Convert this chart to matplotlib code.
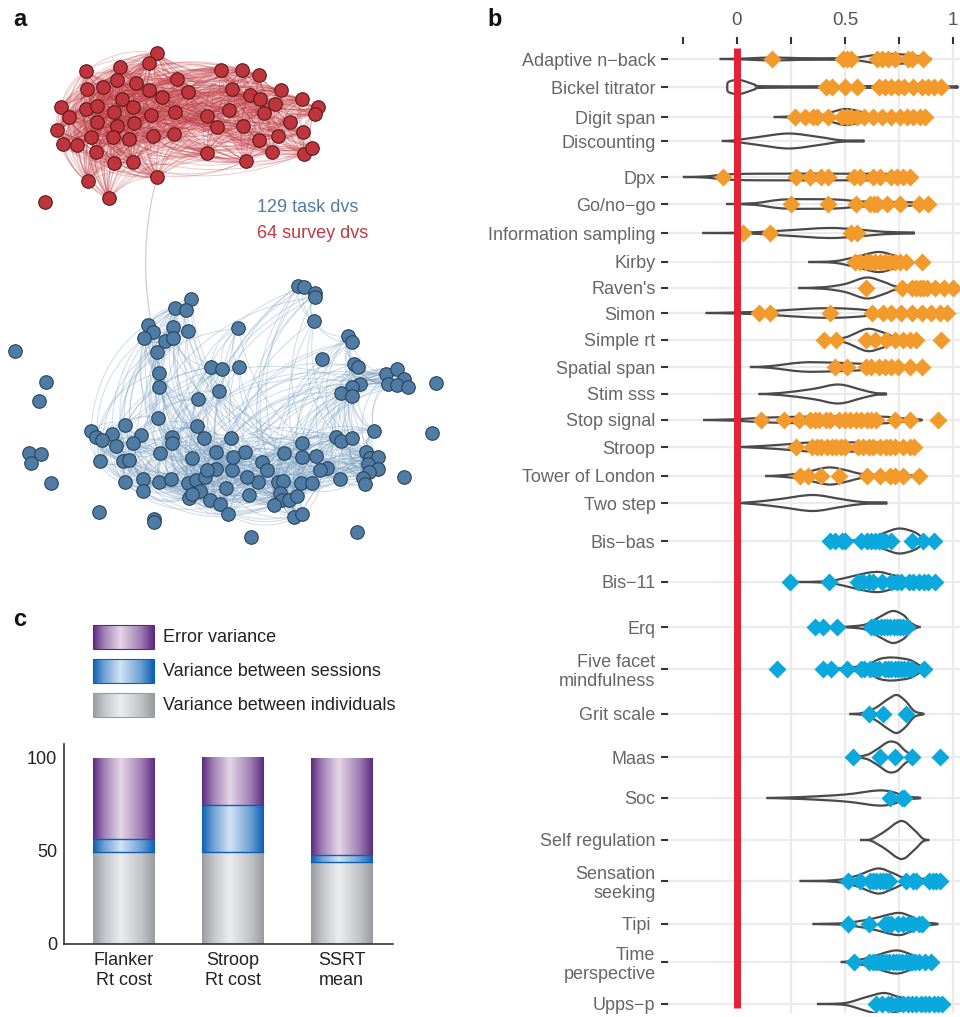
import numpy as np
import matplotlib
matplotlib.use('Agg')
import matplotlib.pyplot as plt
from matplotlib.path import Path
from matplotlib.patches import PathPatch, Rectangle
from matplotlib.collections import LineCollection
from matplotlib.colors import LinearSegmentedColormap, to_rgb

plt.rcParams['font.family'] = ['Liberation Sans', 'DejaVu Sans']

# ---------------- DATA ----------------
# Panel a: network layout (node positions in layout units)
survey_nodes = [(157,53),(149,63),(86,71),(120,67),(221,70),(242,70),(259,75),
    (117,80),(136,83),(177,79),(87,89),(103,87),(149,90),(188,92),(232,89),(281,90),
    (162,97),(122,99),(250,95),(260,99),(275,104),(302,99),(318,107),(315,114),
    (61,107),(86,109),(97,106),(133,107),(114,112),(151,115),(175,112),(207,116),(229,110),(264,113),
    (69,117),(97,122),(117,126),(134,123),(57,130),(217,127),(243,126),(290,122),
    (91,137),(113,137),(129,139),(153,136),(174,134),(278,136),(303,132),
    (63,144),(77,145),(96,152),(259,140),(207,153),(272,152),(304,154),(312,148),
    (114,163),(133,162),(246,161),(157,177),(88,181),(109,198)]
survey_isolated = [(45,202)]

task_nodes = [(298,286),(304,287),(315,293),(315,297),(191,299),(175,308),(186,310),(314,321),
    (148,325),(153,332),(144,338),(173,327),(188,331),(238,328),(165,341),(173,338),(348,336),
    (352,342),(157,352),(211,367),(222,369),(239,367),(354,364),(358,367),(386,374),(397,369),
    (404,379),(388,384),(397,385),(408,387),(159,373),(360,384),(352,387),(341,393),(352,396),
    (159,387),(219,391),(198,399),(158,418),(197,426),(125,425),(91,431),(96,437),(112,434),
    (102,440),(141,435),(133,443),(116,446),(172,437),(172,443),(204,438),(231,438),(374,431),
    (336,437),(341,441),(352,438),(302,443),(160,453),(216,452),(245,452),(284,453),(302,457),
    (316,456),(192,458),(262,462),(100,461),(123,461),(129,460),(216,469),(232,470),(327,468),
    (366,452),(370,458),(378,457),(368,464),(378,469),(369,472),(125,482),(143,479),(159,482),
    (171,479),(188,483),(196,480),(205,477),(258,482),(278,482),(283,481),(301,483),(312,483),
    (340,479),(363,478),(365,484),(143,491),(200,491),(226,488),(189,498),(192,494),(210,500),
    (249,495),(280,493),(282,500),(289,500),(297,496),(220,504),(274,505),(228,514),(294,517),
    (302,514),(207,470),(247,477),(267,470),(320,470),(233,457)]
task_isolated = [(15,351),(46,382),(39,401),(29,453),(41,454),(31,463),(51,483),(99,512),
    (154,519),(154,522),(251,537),(357,532),(436,383),(432,433),(404,477),(322,359)]
bridge_edge = [(157,177),(153,332)]

# Panel b: reliability distributions
row_labels = ['Adaptive n\u2212back','Bickel titrator','Digit span','Discounting','Dpx',
    'Go/no\u2212go','Information sampling','Kirby',"Raven's",'Simon','Simple rt','Spatial span',
    'Stim sss','Stop signal','Stroop','Tower of London','Two step','Bis\u2212bas','Bis\u221211',
    'Erq','Five facet\nmindfulness','Grit scale','Maas','Soc','Self regulation',
    'Sensation\nseeking','Tipi ','Time\nperspective','Upps\u2212p']
row_pos = [59,87,117,141,177,204,233,262,288,313,340,367,394,420,447,476,503,541,582,
    627,669,714,757,798,840,881,924,962,1004]
row_is_task = [True]*17 + [False]*12

row_points = [
    [0.16,0.49,0.51,0.53,0.65,0.67,0.70,0.73,0.79,0.81,0.86],
    [0.41,0.44,0.50,0.555,0.655,0.685,0.715,0.745,0.775,0.815,0.855,0.885,0.91,0.945],
    [0.27,0.315,0.35,0.37,0.42,0.485,0.51,0.53,0.555,0.59,0.63,0.67,0.715,0.755,0.785,0.815,0.845,0.87],
    [],
    [-0.065,0.275,0.34,0.39,0.42,0.54,0.57,0.63,0.66,0.715,0.74,0.77,0.80],
    [0.25,0.42,0.55,0.615,0.635,0.65,0.695,0.755,0.84,0.885],
    [0.03,0.155,0.53,0.555],
    [0.545,0.57,0.595,0.615,0.64,0.66,0.685,0.71,0.73,0.755,0.78,0.855],
    [0.595,0.765,0.81,0.83,0.845,0.86,0.88,0.915,0.96,1.0],
    [0.10,0.155,0.43,0.625,0.675,0.715,0.76,0.81,0.855,0.90,0.94,0.97],
    [0.405,0.46,0.595,0.64,0.69,0.73,0.77,0.80,0.83,0.945],
    [0.455,0.51,0.595,0.62,0.655,0.685,0.715,0.745,0.80,0.855],
    [],
    [0.11,0.22,0.285,0.34,0.36,0.38,0.41,0.43,0.47,0.50,0.525,0.55,0.575,0.60,0.62,0.645,0.73,0.80,0.93],
    [0.275,0.345,0.37,0.39,0.415,0.44,0.46,0.48,0.50,0.56,0.585,0.61,0.63,0.66,0.69,0.71,0.73,0.77,0.80,0.82],
    [0.29,0.33,0.39,0.47,0.60,0.66,0.71,0.73,0.77,0.84],
    [],
    [0.43,0.455,0.485,0.50,0.575,0.60,0.62,0.64,0.655,0.67,0.685,0.715,0.81,0.86,0.91],
    [0.245,0.425,0.56,0.585,0.61,0.63,0.67,0.715,0.74,0.76,0.795,0.815,0.84,0.865,0.885,0.915],
    [0.36,0.40,0.465,0.62,0.635,0.65,0.665,0.68,0.695,0.71,0.725,0.74,0.755,0.77,0.785],
    [0.185,0.40,0.435,0.51,0.575,0.59,0.615,0.64,0.655,0.685,0.70,0.715,0.73,0.745,0.76,0.775,0.79,0.81,0.865],
    [0.61,0.675,0.78],
    [0.535,0.66,0.73,0.81,0.94],
    [0.71,0.765,0.775],
    [],
    [0.515,0.57,0.615,0.63,0.645,0.66,0.675,0.69,0.705,0.78,0.815,0.83,0.89,0.905,0.92,0.94],
    [0.515,0.61,0.685,0.70,0.715,0.745,0.77,0.79,0.815,0.84,0.855],
    [0.54,0.61,0.63,0.645,0.66,0.675,0.69,0.705,0.72,0.735,0.75,0.765,0.78,0.795,0.81,0.825,0.84,0.87,0.90],
    [0.645,0.67,0.70,0.715,0.74,0.77,0.79,0.81,0.83,0.85,0.87,0.89,0.91,0.93,0.95],
]

# violin outlines: (value, half width) profile
row_violins = [
    [(-0.08,0),(0.05,0.6),(0.16,1.5),(0.3,0.8),(0.48,0.8),(0.55,1.2),(0.62,3.5),(0.7,5),(0.8,4),(0.87,1.5),(0.9,0)],
    [(-0.045,0),(-0.042,4.5),(-0.02,6.5),(0.01,7),(0.04,5.5),(0.08,2.5),(0.12,0.8),(0.4,0.7),(0.7,0.9),(1.0,0.6),(1.005,0)],
    [(0.17,0),(0.25,0.5),(0.38,1.5),(0.44,5),(0.5,8),(0.56,6),(0.62,2),(0.7,0.8),(0.86,0.6),(0.87,0)],
    [(-0.07,0),(-0.02,0.5),(0.1,4),(0.24,7.5),(0.38,4),(0.48,0.8),(0.58,0.5),(0.585,0)],
    [(-0.25,0),(-0.15,0.5),(-0.05,2.5),(0.1,3.3),(0.5,3.3),(0.72,3),(0.8,1.2),(0.81,0)],
    [(-0.05,0),(0.08,0.8),(0.22,4.5),(0.45,4.5),(0.58,2.5),(0.75,2),(0.88,1),(0.9,0)],
    [(-0.16,0),(0.05,0.5),(0.22,2.5),(0.42,5),(0.56,3.5),(0.68,1.2),(0.81,0.5),(0.815,0)],
    [(0.33,0),(0.45,0.8),(0.55,5),(0.65,10),(0.72,7),(0.77,2.5),(0.81,0)],
    [(0.284,0),(0.4,0.8),(0.5,4),(0.6,10.5),(0.68,6),(0.74,1.5),(0.85,1),(1.0,0.8),(1.01,0)],
    [(-0.145,0),(0.0,0.6),(0.15,1.8),(0.35,4.5),(0.5,4.5),(0.62,2.5),(0.7,1),(0.97,0.6),(0.98,0)],
    [(0.40,0),(0.5,2.5),(0.6,11),(0.67,8),(0.73,3),(0.8,1),(0.82,0)],
    [(0.06,0),(0.15,0.8),(0.3,4.5),(0.42,4.5),(0.55,3.5),(0.65,2.5),(0.75,1.5),(0.86,0.5),(0.865,0)],
    [(0.1,0),(0.2,1),(0.35,5),(0.47,9.5),(0.58,4),(0.64,1),(0.685,0.6),(0.69,0)],
    [(-0.157,0),(0.0,0.8),(0.15,2.5),(0.4,3.5),(0.65,3.5),(0.78,1.5),(0.85,0.5),(0.855,0)],
    [(0.0,0),(0.1,0.8),(0.25,3),(0.35,4.5),(0.6,4.5),(0.75,4),(0.81,1),(0.83,0)],
    [(0.13,0),(0.2,0.6),(0.3,3),(0.42,8.5),(0.5,6),(0.58,2),(0.7,1),(0.84,0.5),(0.845,0)],
    [(0.01,0),(0.1,1.5),(0.2,4),(0.35,8),(0.48,4),(0.58,1),(0.685,0.6),(0.69,0)],
    [(0.43,0),(0.55,0.8),(0.62,2.5),(0.68,8),(0.75,12.5),(0.82,9),(0.86,3),(0.88,0)],
    [(0.28,0),(0.42,0.8),(0.5,4),(0.6,9),(0.66,10),(0.72,7),(0.8,3),(0.9,1.5),(0.92,0)],
    [(0.47,0),(0.55,1),(0.6,3),(0.66,10),(0.72,16),(0.77,12),(0.8,5),(0.83,1),(0.85,0)],
    [(0.4,0),(0.5,1),(0.6,4),(0.66,10),(0.72,11.5),(0.8,9),(0.85,3),(0.88,0)],
    [(0.52,0),(0.58,1),(0.64,6),(0.7,15),(0.74,19),(0.78,13),(0.82,3),(0.86,0.5),(0.865,0)],
    [(0.53,0),(0.6,2),(0.65,8),(0.7,15),(0.74,14),(0.78,6),(0.82,1),(0.84,0)],
    [(0.137,0),(0.3,1),(0.5,3.5),(0.65,7.5),(0.72,6),(0.78,1.5),(0.84,0.5),(0.845,0)],
    [(0.57,0),(0.62,0.8),(0.68,8),(0.76,19),(0.82,10),(0.86,1.5),(0.89,0)],
    [(0.29,0),(0.45,0.8),(0.55,5),(0.65,12.5),(0.72,8),(0.78,3),(0.9,2),(0.95,0)],
    [(0.35,0),(0.5,1),(0.62,5),(0.74,11),(0.8,8),(0.86,2),(0.92,0.5),(0.925,0)],
    [(0.48,0),(0.55,1.5),(0.62,5),(0.73,11.5),(0.8,8),(0.86,2),(0.9,0)],
    [(0.37,0),(0.5,1),(0.6,7),(0.68,11),(0.75,7),(0.83,3),(0.9,1),(0.92,0)],
]
b_ticks = [-0.25, 0, 0.25, 0.5, 0.75, 1]
b_ticklabels = ['', '0', '', '0.5', '', '1']

# Panel c: variance decomposition
c_categories = ['Flanker\nRt cost', 'Stroop\nRt cost', 'SSRT\nmean']
c_individuals = [49.5, 49.5, 44.0]
c_sessions = [7.0, 25.2, 4.0]
c_error = [43.5, 25.3, 52.0]
c_legend = ['Error variance', 'Variance between sessions', 'Variance between individuals']

# ---------------- FIGURE ----------------
W, H = 960, 1017
fig = plt.figure(figsize=(9.6, 10.17), dpi=100)

def axes_px(l, t, r, b):
    return fig.add_axes([l / W, 1 - b / H, (r - l) / W, (b - t) / H])

def curved_segments(P, pairs, rad=0.18, n=18):
    t = np.linspace(0, 1, n)[:, None]
    segs = []
    for i, j in pairs:
        p0, p1 = P[i], P[j]
        d = p1 - p0
        c = (p0 + p1) / 2 + rad * np.array([-d[1], d[0]])
        segs.append((1 - t) ** 2 * p0 + 2 * (1 - t) * t * c + t ** 2 * p1)
    return segs

# ---- panel a ----
ax_a = axes_px(0, 0, 480, 560)
ax_a.set_xlim(0, 480); ax_a.set_ylim(560, 0); ax_a.axis('off')

R = np.array(survey_nodes, float)
red_pairs = []
for i in range(len(R)):
    for j in range(i + 1, len(R)):
        dd = np.hypot(*(R[i] - R[j]))
        if dd < 120 or ((i * 7 + j * 3) % 9 == 0):
            red_pairs.append((i, j))
ax_a.add_collection(LineCollection(curved_segments(R, red_pairs, 0.22), colors='#C23E44',
                                   linewidths=0.7, alpha=0.28, zorder=1))

B = np.array(task_nodes, float)
core_y = 425
blue_pairs = []
for i in range(len(B)):
    for j in range(i + 1, len(B)):
        dd = np.hypot(*(B[i] - B[j]))
        up_i, up_j = B[i, 1] < core_y, B[j, 1] < core_y
        if dd < 50:
            blue_pairs.append((i, j))
        elif up_i != up_j and dd < 240 and (i * 5 + j * 11) % 17 == 0:
            blue_pairs.append((i, j))
        elif (not up_i) and (not up_j) and dd < 140 and (i * 3 + j * 7) % 8 == 0:
            blue_pairs.append((i, j))
ax_a.add_collection(LineCollection(curved_segments(B, blue_pairs, 0.3), colors='#7FA3C4',
                                   linewidths=0.7, alpha=0.38, zorder=1))
BR = np.array(bridge_edge, float)
ax_a.add_collection(LineCollection(curved_segments(BR, [(0, 1)], 0.12, 40), colors='#D6CBD0',
                                   linewidths=0.9, zorder=1))

for pts, fc, ec in [(survey_nodes + survey_isolated, '#C0353B', '#5A1A1D'),
                    (task_nodes + task_isolated, '#4F7CA4', '#2B435A')]:
    P = np.array(pts, float)
    ax_a.scatter(P[:, 0], P[:, 1], s=95, facecolor=fc, edgecolor=ec, linewidth=0.8, zorder=3)

# ---- panel b ----
ax_b = axes_px(668, 44, 960, 1013)
xl = (-0.319, 1.032)
ax_b.set_xlim(*xl); ax_b.set_ylim(1013, 44)
for s in ax_b.spines.values():
    s.set_visible(False)
grid_c = '#EBEBEB'
for y in row_pos:
    ax_b.plot(xl, [y, y], color=grid_c, lw=1.6, zorder=0, solid_capstyle='butt')
for x in [0.25, 0.5, 0.75, 1.0]:
    ax_b.plot([x, x], [44, 1013], color=grid_c, lw=1.6, zorder=0, solid_capstyle='butt')

def smooth_path(pts):
    pts = np.asarray(pts, float)
    verts = [pts[0]]; codes = [Path.MOVETO]
    n = len(pts)
    for k in range(n - 1):
        p0 = pts[k - 1] if k > 0 else pts[k]
        p1 = pts[k]; p2 = pts[k + 1]
        p3 = pts[k + 2] if k + 2 < n else pts[k + 1]
        verts += [p1 + (p2 - p0) / 6, p2 - (p3 - p1) / 6, p2]
        codes += [Path.CURVE4] * 3
    return Path(verts, codes)

for y, prof, pts, is_task in zip(row_pos, row_violins, row_points, row_is_task):
    prof = np.array(prof, float)
    for sgn in (-1, 1):
        curve = np.column_stack([prof[:, 0], y + sgn * prof[:, 1]])
        ax_b.add_patch(PathPatch(smooth_path(curve), facecolor='none', edgecolor='#4A4A4A',
                                 lw=1.6, zorder=3))
    if pts:
        ax_b.plot(pts, [y] * len(pts), 'D', ms=9.0, color='#F39A2C' if is_task else '#0BA8DD',
                  mec='none', zorder=4, linestyle='none')

ax_b.plot([0, 0], [48, 1008], color='#E62035', lw=5, solid_capstyle='butt', zorder=5)

ax_b.xaxis.tick_top()
ax_b.set_xticks(b_ticks)
ax_b.set_xticklabels(b_ticklabels)
ax_b.tick_params(axis='x', length=5, width=1.5, color='#333333', pad=6, labelsize=13.5,
                 labelcolor='#555555')
ax_b.set_yticks(row_pos)
ax_b.set_yticklabels(row_labels)
ax_b.tick_params(axis='y', length=5, width=1.5, color='#333333', pad=4, labelsize=13,
                 labelcolor='#666666')
for lab in ax_b.get_yticklabels():
    lab.set_linespacing(1.15)

# ---- gradient helpers ----
def grad_cmap(dark, light):
    d = np.array(to_rgb(dark)); l = np.array(to_rgb(light))
    m = (d + l) / 2
    return LinearSegmentedColormap.from_list('g', [(0, d), (0.18, m), (0.45, l), (0.78, m), (1, d)])

cmaps = [grad_cmap('#5B2A80', '#E6D6E8'),  # error
         grad_cmap('#0B5FB3', '#D3E3F4'),  # sessions
         grad_cmap('#9A9BA0', '#ECEDEF')]  # individuals
edge_cols = ['#5B2A80', '#0B5FB3', '#9A9BA0']
grad = np.linspace(0, 1, 256)[None, :]

# ---- panel c ----
ax_c = axes_px(64, 744, 393, 944)
xlim_c = (-0.546, 2.47); ylim_c = (0, 107.5)
bw = 0.56
for i in range(len(c_categories)):
    segs = [(0, c_individuals[i], 2),
            (c_individuals[i], c_individuals[i] + c_sessions[i], 1),
            (c_individuals[i] + c_sessions[i], c_individuals[i] + c_sessions[i] + c_error[i], 0)]
    for y0, y1, k in segs:
        ax_c.imshow(grad, cmap=cmaps[k], extent=(i - bw / 2, i + bw / 2, y0, y1),
                    aspect='auto', zorder=2, interpolation='bilinear')
        if k == 1:
            for yy in (y0, y1):
                ax_c.plot([i - bw / 2, i + bw / 2], [yy, yy], color='#0B5FB3', lw=1.0, zorder=3)
ax_c.set_xlim(*xlim_c); ax_c.set_ylim(*ylim_c)
for s in ['top', 'right']:
    ax_c.spines[s].set_visible(False)
for s in ['left', 'bottom']:
    ax_c.spines[s].set_color('#333333'); ax_c.spines[s].set_linewidth(1.2)
ax_c.set_yticks([0, 50, 100])
ax_c.set_xticks(range(len(c_categories)))
ax_c.set_xticklabels(c_categories)
ax_c.tick_params(axis='y', length=0, pad=5, labelsize=13, labelcolor='#222222')
ax_c.tick_params(axis='x', length=0, pad=6, labelsize=13, labelcolor='#222222')
for lab in ax_c.get_xticklabels():
    lab.set_linespacing(1.2)

# ---- overlay (pixel coordinates) ----
ax_o = fig.add_axes([0, 0, 1, 1], facecolor='none')
ax_o.set_xlim(0, W); ax_o.set_ylim(H, 0); ax_o.axis('off')
leg_tops = [625, 659, 693]
for k, (top, txt) in enumerate(zip(leg_tops, c_legend)):
    ax_o.imshow(grad, cmap=cmaps[k], extent=(93, 154, top + 24, top), aspect='auto',
                interpolation='bilinear', zorder=2)
    ax_o.add_patch(Rectangle((93, top), 61, 24, facecolor='none', edgecolor=edge_cols[k],
                             lw=0.8, zorder=3))
    ax_o.text(163, top + 12, txt, va='center', ha='left', fontsize=13, color='#222222')
ax_o.set_xlim(0, W); ax_o.set_ylim(H, 0)

ax_o.text(257, 207, '129 task dvs', fontsize=13, color='#4F7DA6', va='center', ha='left')
ax_o.text(257, 234, '64 survey dvs', fontsize=13, color='#C0393F', va='center', ha='left')
for x, y, t in [(13, 20, 'a'), (487, 20, 'b'), (13, 620, 'c')]:
    ax_o.text(x, y, t, fontsize=17, fontweight='bold', va='center', ha='left', color='#111111')

fig.savefig('out.png', dpi=100)
